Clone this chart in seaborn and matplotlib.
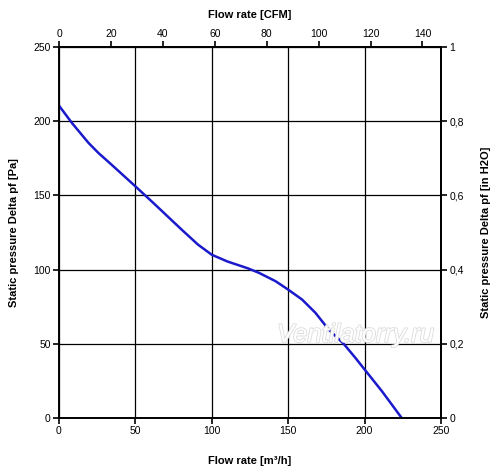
import matplotlib
matplotlib.use("Agg")
import matplotlib.pyplot as plt
import matplotlib.patheffects as pe
import seaborn as sns
import pandas as pd

flow_m3h = [0, 8.4, 19.3, 25.8, 34.4, 50, 62.6, 80.2, 91, 100, 110.4, 123.5, 130.9, 141.7,
            150, 159.1, 167.8, 176.5, 186.3, 193.9, 200, 211.3, 224.3]
pressure_pa = [210.5, 198.9, 185.4, 178.6, 170.7, 156.1, 144.1, 127, 116.8, 110, 105.4, 100.9, 97.8, 92.2,
               86.5, 79.8, 70.9, 59.6, 50, 40.6, 32.7, 18.1, 0]

x_ticks = [0, 50, 100, 150, 200, 250]
y_ticks = [0, 50, 100, 150, 200, 250]
cfm_ticks = [0, 20, 40, 60, 80, 100, 120, 140]
inh2o_ticks = [0, 0.2, 0.4, 0.6, 0.8, 1]
inh2o_labels = ["0", "0,2", "0,4", "0,6", "0,8", "1"]

sns.set_theme(style="white")
plt.rcParams["font.family"] = ["Liberation Sans", "DejaVu Sans"]
plt.rcParams["text.color"] = "black"
plt.rcParams["axes.labelcolor"] = "black"
plt.rcParams["xtick.color"] = "black"
plt.rcParams["ytick.color"] = "black"

df = pd.DataFrame({"flow": flow_m3h, "pressure": pressure_pa})

fig = plt.figure(figsize=(5.0, 4.73), dpi=100)
ax = fig.add_axes([0.118, 0.1163, 0.764, 0.7843])

sns.lineplot(data=df, x="flow", y="pressure", ax=ax, color="#1a1acc", linewidth=1.8)

ax.set_xlim(0, 250)
ax.set_ylim(0, 250)
ax.set_xticks(x_ticks)
ax.set_yticks(y_ticks)
ax.grid(True, color="black", linewidth=0.9)
for s in ax.spines.values():
    s.set_color("black")
    s.set_linewidth(1.4)
ax.tick_params(axis="both", direction="out", length=4, width=1.2, color="black",
               labelcolor="black", labelsize=7.5, pad=2, bottom=True, left=True)
ax.set_xlabel("Flow rate [m³/h]", fontsize=8, fontweight="bold", labelpad=14, color="black")
ax.set_ylabel("Static pressure Delta pf [Pa]", fontsize=8, fontweight="bold", labelpad=10, color="black")

CFM = 1.699
top = ax.secondary_xaxis("top", functions=(lambda v: v / CFM, lambda v: v * CFM))
top.set_xticks(cfm_ticks)
top.tick_params(direction="out", length=4, width=1.2, color="black", labelcolor="black",
                labelsize=7.5, pad=2)
top.spines["top"].set_linewidth(1.4)
top.set_xlabel("Flow rate [CFM]", fontsize=8, fontweight="bold", labelpad=8, color="black")

right = ax.secondary_yaxis("right", functions=(lambda v: v / 250.0, lambda v: v * 250.0))
right.set_yticks(inh2o_ticks)
right.set_yticklabels(inh2o_labels)
right.tick_params(direction="out", length=4, width=1.2, color="black", labelcolor="black",
                  labelsize=7.5, pad=2)
right.spines["right"].set_linewidth(1.4)
right.set_ylabel("Static pressure Delta pf [in H2O]", fontsize=8, fontweight="bold", labelpad=12,
                 color="black")

ax.text(0.777, 0.224, "Ventilatorry.ru", transform=ax.transAxes, ha="center", va="center",
        fontsize=18.5, style="italic", color="white", zorder=5,
        path_effects=[pe.withStroke(linewidth=1.2, foreground="#dcdcdc")])

fig.savefig("out.png", dpi=100)
